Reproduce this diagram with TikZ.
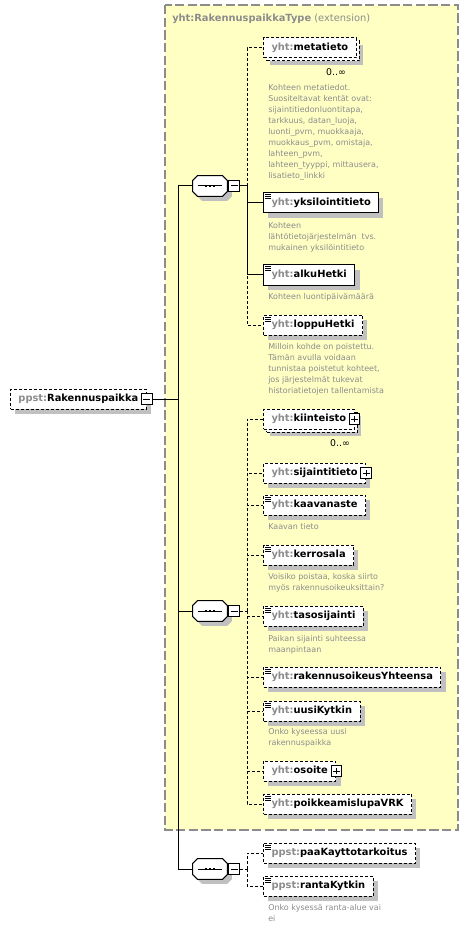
\documentclass[tikz,border=0pt]{standalone}
\usepackage{fontspec}
\setmainfont{DejaVu Sans}
\usetikzlibrary{positioning,shadows}
\definecolor{typefill}{HTML}{FFFFC4}
\definecolor{typeedge}{HTML}{8C8C8C}
\definecolor{prefixgray}{HTML}{8C8C8C}
\definecolor{docgray}{HTML}{8C8C8C}
\definecolor{shadowgray}{HTML}{C0C0C0}
\newcommand{\qn}[2]{{\color{prefixgray}#1:}#2}
% sequence symbol drawn over an empty node
\newcommand{\seqsym}[1]{%
  \fill[shadowgray, transform canvas={xshift=3.5pt, yshift=-3.5pt}]
    ([xshift=3.5pt]#1.north west) -- ([xshift=-3.5pt]#1.north east) -- ([yshift=-3.5pt]#1.north east)
    -- ([yshift=3.5pt]#1.south east) -- ([xshift=-3.5pt]#1.south east) -- ([xshift=3.5pt]#1.south west)
    -- ([yshift=3.5pt]#1.south west) -- ([yshift=-3.5pt]#1.north west) -- cycle;
  \filldraw[fill=white, line width=0.75pt]
    ([xshift=3.5pt]#1.north west) -- ([xshift=-3.5pt]#1.north east) -- ([yshift=-3.5pt]#1.north east)
    -- ([yshift=3.5pt]#1.south east) -- ([xshift=-3.5pt]#1.south east) -- ([xshift=3.5pt]#1.south west)
    -- ([yshift=3.5pt]#1.south west) -- ([yshift=-3.5pt]#1.north west) -- cycle;
  \draw[line width=0.75pt] ([xshift=-9.2pt]#1.center) -- ([xshift=9.2pt]#1.center);
  \foreach \d in {-3,0,3}
    \fill[black] ([xshift=\d pt]#1.center) ++(-1.4,-1.2) rectangle ++(2.8,2.4);
}

\begin{document}
\begin{tikzpicture}[
  x=0.75pt, y=-0.75pt,
  box/.style={rectangle, draw, fill=white, anchor=west, minimum height=15pt,
    inner xsep=6pt, inner ysep=0pt, line width=0.75pt,
    font=\fontsize{7.4}{9}\selectfont\bfseries},
  elem/.style={box, drop shadow={shadow xshift=3.5pt, shadow yshift=-3.5pt, fill=shadowgray, opacity=1}},
  multi/.style={box, drop shadow={shadow xshift=5pt, shadow yshift=-5pt, fill=shadowgray, opacity=1},
    general shadow={shadow xshift=2.25pt, shadow yshift=-2.25pt, fill=white, draw=black,
      line width=0.75pt, dash pattern=on 2.25pt off 1.5pt}},
  opt/.style={dash pattern=on 2.25pt off 1.5pt},
  simple/.style={path picture={\foreach \k in {0,1,2}
      \draw[solid, line width=0.75pt] ([shift={(1.5,{2+2*\k})}]path picture bounding box.north west) -- ++(6,0);}},
  pm/.style={rectangle, draw, solid, fill=white, minimum size=8pt, inner sep=0pt, line width=0.75pt},
  minus/.style={pm, path picture={
      \draw ([xshift=-2.6pt]path picture bounding box.center) -- ([xshift=2.6pt]path picture bounding box.center);}},
  plus/.style={pm, path picture={
      \draw ([xshift=-2.6pt]path picture bounding box.center) -- ([xshift=2.6pt]path picture bounding box.center);
      \draw ([yshift=-2.6pt]path picture bounding box.center) -- ([yshift=2.6pt]path picture bounding box.center);}},
  seq/.style={rectangle, minimum width=25.5pt, minimum height=15pt, inner sep=0pt},
  conn/.style={line width=0.75pt},
  doc/.style={anchor=north west, inner sep=0pt, align=left, text=docgray,
    font=\fontsize{6}{8.25}\selectfont},
  mult/.style={inner sep=0pt, font=\fontsize{7}{8}\selectfont},
  title/.style={anchor=west, inner sep=0pt, text=typeedge, font=\fontsize{7.4}{9}\selectfont}
]
\useasboundingbox (0,0) rectangle (469,930);

% extension type area
\draw[fill=typefill, draw=typeedge, line width=1pt, dash pattern=on 7pt off 2.5pt] (165,5) rectangle (458,830);
\node[title] (typetitle) at (172,19) {\textbf{yht:RakennuspaikkaType} (extension)};

% root element
\node[elem, opt] (root) at (10,399) {\qn{ppst}{Rakennuspaikka}\hspace{4.5pt}};
\node[minus] (rootmin) at (root.east) {};
\coordinate (trunk) at (178,399);

% sequences
\node[seq] (seq1) at (210,186) {};
\node[seq] (seq2) at (210,611) {};
\node[seq] (seq3) at (210,869) {};
\seqsym{seq1}
\seqsym{seq2}
\seqsym{seq3}
\node[minus, right=0.75pt of seq1] (seq1min) {};
\node[minus, right=0.75pt of seq2] (seq2min) {};
\node[minus, right=0.75pt of seq3] (seq3min) {};
\coordinate (br1) at (247,186);
\coordinate (br2) at (247,611);
\coordinate (br3) at (247,869);

% first sequence
\node[multi, opt] (meta) at (263,48) {\qn{yht}{metatieto}};
\node[mult] (metamult) at (336,72) {0..∞};
\node[doc] (metadoc) at (268,84) {Kohteen metatiedot.\\Suositeltavat kentät ovat:\\sijaintitiedonluontitapa,\\tarkkuus, datan\_luoja,\\luonti\_pvm, muokkaaja,\\muokkaus\_pvm, omistaja,\\lahteen\_pvm,\\lahteen\_tyyppi, mittausera,\\lisatieto\_linkki};
\node[elem, simple] (yks) at (263,203) {\qn{yht}{yksilointitieto}};
\node[doc] (yksdoc) at (268,222) {Kohteen\\lähtötietojärjestelmän\ \ tvs.\\mukainen yksilöintitieto};
\node[elem, simple] (alku) at (263,275) {\qn{yht}{alkuHetki}};
\node[doc] (alkudoc) at (268,293) {Kohteen luontipäivämäärä};
\node[elem, opt, simple] (loppu) at (263,325) {\qn{yht}{loppuHetki}};
\node[doc] (loppudoc) at (268,343) {Milloin kohde on poistettu.\\Tämän avulla voidaan\\tunnistaa poistetut kohteet,\\jos järjestelmät tukevat\\historiatietojen tallentamista};

% second sequence
\node[multi, opt] (kiin) at (263,419) {\qn{yht}{kiinteisto}\hspace{3pt}};
\node[plus] (kiinplus) at (kiin.east) {};
\node[mult] (kiinmult) at (340,443) {0..∞};
\node[elem, opt] (sija) at (263,473) {\qn{yht}{sijaintitieto}\hspace{3pt}};
\node[plus] (sijaplus) at (sija.east) {};
\node[elem, opt, simple] (kaava) at (263,505) {\qn{yht}{kaavanaste}};
\node[doc] (kaavadoc) at (268,523) {Kaavan tieto};
\node[elem, opt, simple] (kerros) at (263,555) {\qn{yht}{kerrosala}};
\node[doc] (kerrosdoc) at (268,573) {Voisiko poistaa, koska siirto\\myös rakennusoikeuksittain?};
\node[elem, opt, simple] (taso) at (263,616) {\qn{yht}{tasosijainti}};
\node[doc] (tasodoc) at (268,635) {Paikan sijainti suhteessa\\maanpintaan};
\node[elem, opt, simple] (rakyht) at (263,677) {\qn{yht}{rakennusoikeusYhteensa}};
\node[elem, opt, simple] (uusi) at (263,711) {\qn{yht}{uusiKytkin}};
\node[doc] (uusidoc) at (268,728) {Onko kyseessa uusi\\rakennuspaikka};
\node[elem, opt] (osoite) at (263,771) {\qn{yht}{osoite}\hspace{3pt}};
\node[plus] (osoiteplus) at (osoite.east) {};
\node[elem, opt, simple] (poikk) at (263,804) {\qn{yht}{poikkeamislupaVRK}};

% third sequence
\node[elem, opt, simple] (paa) at (263,853) {\qn{ppst}{paaKayttotarkoitus}};
\node[elem, opt, simple] (ranta) at (263,886) {\qn{ppst}{rantaKytkin}};
\node[doc] (rantadoc) at (268,904) {Onko kysessä ranta-alue vai\\ei};

% connectors
\draw[conn] (rootmin.east) -- (trunk);
\draw[conn] (trunk) |- (seq1.west);
\draw[conn] (trunk) |- (seq2.west);
\draw[conn] (trunk) |- (seq3.west);

\draw[conn] (seq1min.east) -- (br1);
\draw[conn, opt] (br1) |- (meta.west);
\draw[conn, opt] (br1) |- (loppu.west);
\draw[conn] (br1) |- (yks.west);
\draw[conn] (br1) |- (alku.west);

\draw[conn, opt] (seq2min.east) -- (br2);
\foreach \c in {kiin, sija, kaava, kerros, taso, rakyht, uusi, osoite, poikk}
  \draw[conn, opt] (br2) |- (\c.west);

\draw[conn, opt] (seq3min.east) -- (br3);
\draw[conn, opt] (br3) |- (paa.west);
\draw[conn, opt] (br3) |- (ranta.west);
\end{tikzpicture}
\end{document}
